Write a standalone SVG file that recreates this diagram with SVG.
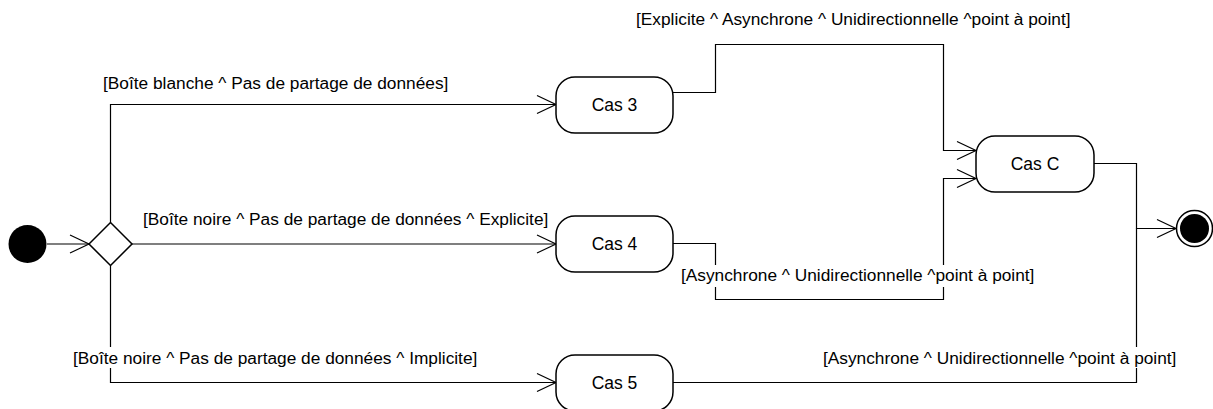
<svg xmlns="http://www.w3.org/2000/svg" width="1213" height="409" viewBox="0 0 1213 409">
  <style>
    .edge { fill: none; stroke: #000; stroke-width: 1.2; }
    .state { fill: #fff; stroke: #000; stroke-width: 1.5; }
    .name { font-family: "Liberation Sans", Arial, sans-serif; font-size: 17.5px; fill: #000; text-anchor: middle; }
    .guard { font-family: "Liberation Sans", Arial, sans-serif; font-size: 17.3px; fill: #000; }
    .guard-bg { fill: #fff; }
  </style>
  <defs>
    <marker id="open" markerUnits="userSpaceOnUse" markerWidth="22" markerHeight="22" refX="19" refY="9" orient="auto" overflow="visible">
      <path d="M0,0 L19,9 L0,18" fill="none" stroke="#000" stroke-width="1.2"/>
    </marker>
  </defs>

  <rect width="1213" height="409" fill="#fff"/>

  <!-- transitions -->
  <g id="connectors">
    <path class="edge" d="M47,244 L89,244" marker-end="url(#open)"/>
    <path class="edge" d="M110.5,222.5 V104.5 H556" marker-end="url(#open)"/>
    <path class="edge" d="M132,244 H556" marker-end="url(#open)"/>
    <path class="edge" d="M110.5,265.5 V382.5 H556" marker-end="url(#open)"/>
    <path class="edge" d="M673,92.5 H715.5 V44.5 H943.5 V150.5 H976" marker-end="url(#open)"/>
    <path class="edge" d="M673,243.5 H715.5 V299.5 H943.5 V178.5 H976" marker-end="url(#open)"/>
    <path class="edge" d="M1094,163.5 H1136.5 V228.5"/>
    <path class="edge" d="M673,382.5 H1136.5 V228.5 H1176" marker-end="url(#open)"/>
  </g>

  <!-- guard labels -->
  <g id="guards">
    <rect class="guard-bg" x="634" y="9" width="440" height="21"/>
    <text class="guard" x="636" y="24.5">[Explicite ^ Asynchrone ^ Unidirectionnelle ^point à point]</text>
    <rect class="guard-bg" x="101" y="72" width="349" height="21"/>
    <text class="guard" x="103" y="88.5">[Boîte blanche ^ Pas de partage de données]</text>
    <rect class="guard-bg" x="141" y="208" width="408" height="21"/>
    <text class="guard" x="143" y="224.5">[Boîte noire ^ Pas de partage de données ^ Explicite]</text>
    <rect class="guard-bg" x="679" y="265" width="360" height="22"/>
    <text class="guard" x="681" y="281">[Asynchrone ^ Unidirectionnelle ^point à point]</text>
    <rect class="guard-bg" x="71" y="347" width="408" height="21"/>
    <text class="guard" x="73" y="363.5">[Boîte noire ^ Pas de partage de données ^ Implicite]</text>
    <rect class="guard-bg" x="821" y="347" width="362" height="21"/>
    <text class="guard" x="823" y="363.5">[Asynchrone ^ Unidirectionnelle ^point à point]</text>
  </g>

  <!-- pseudo-states and states -->
  <g id="initial">
    <circle cx="27.5" cy="244" r="19" fill="#000"/>
  </g>
  <g id="decision">
    <path d="M89,244 L110.5,222.5 L132,244 L110.5,265.5 Z" fill="#fff" stroke="#000" stroke-width="1.5"/>
  </g>
  <g id="cas3">
    <rect class="state" x="556" y="77" width="117" height="56" rx="19"/>
    <text class="name" x="614.5" y="111">Cas 3</text>
  </g>
  <g id="cas4">
    <rect class="state" x="556" y="216" width="117" height="56" rx="19"/>
    <text class="name" x="614.5" y="250">Cas 4</text>
  </g>
  <g id="cas5">
    <rect class="state" x="556" y="355" width="117" height="56" rx="19"/>
    <text class="name" x="614.5" y="389">Cas 5</text>
  </g>
  <g id="casC">
    <rect class="state" x="976" y="136" width="118" height="56" rx="19"/>
    <text class="name" x="1035" y="170">Cas C</text>
  </g>
  <g id="final">
    <circle cx="1194.5" cy="228.5" r="18" fill="#fff" stroke="#000" stroke-width="1.5"/>
    <circle cx="1194.5" cy="228.5" r="14.5" fill="#000"/>
  </g>
</svg>
